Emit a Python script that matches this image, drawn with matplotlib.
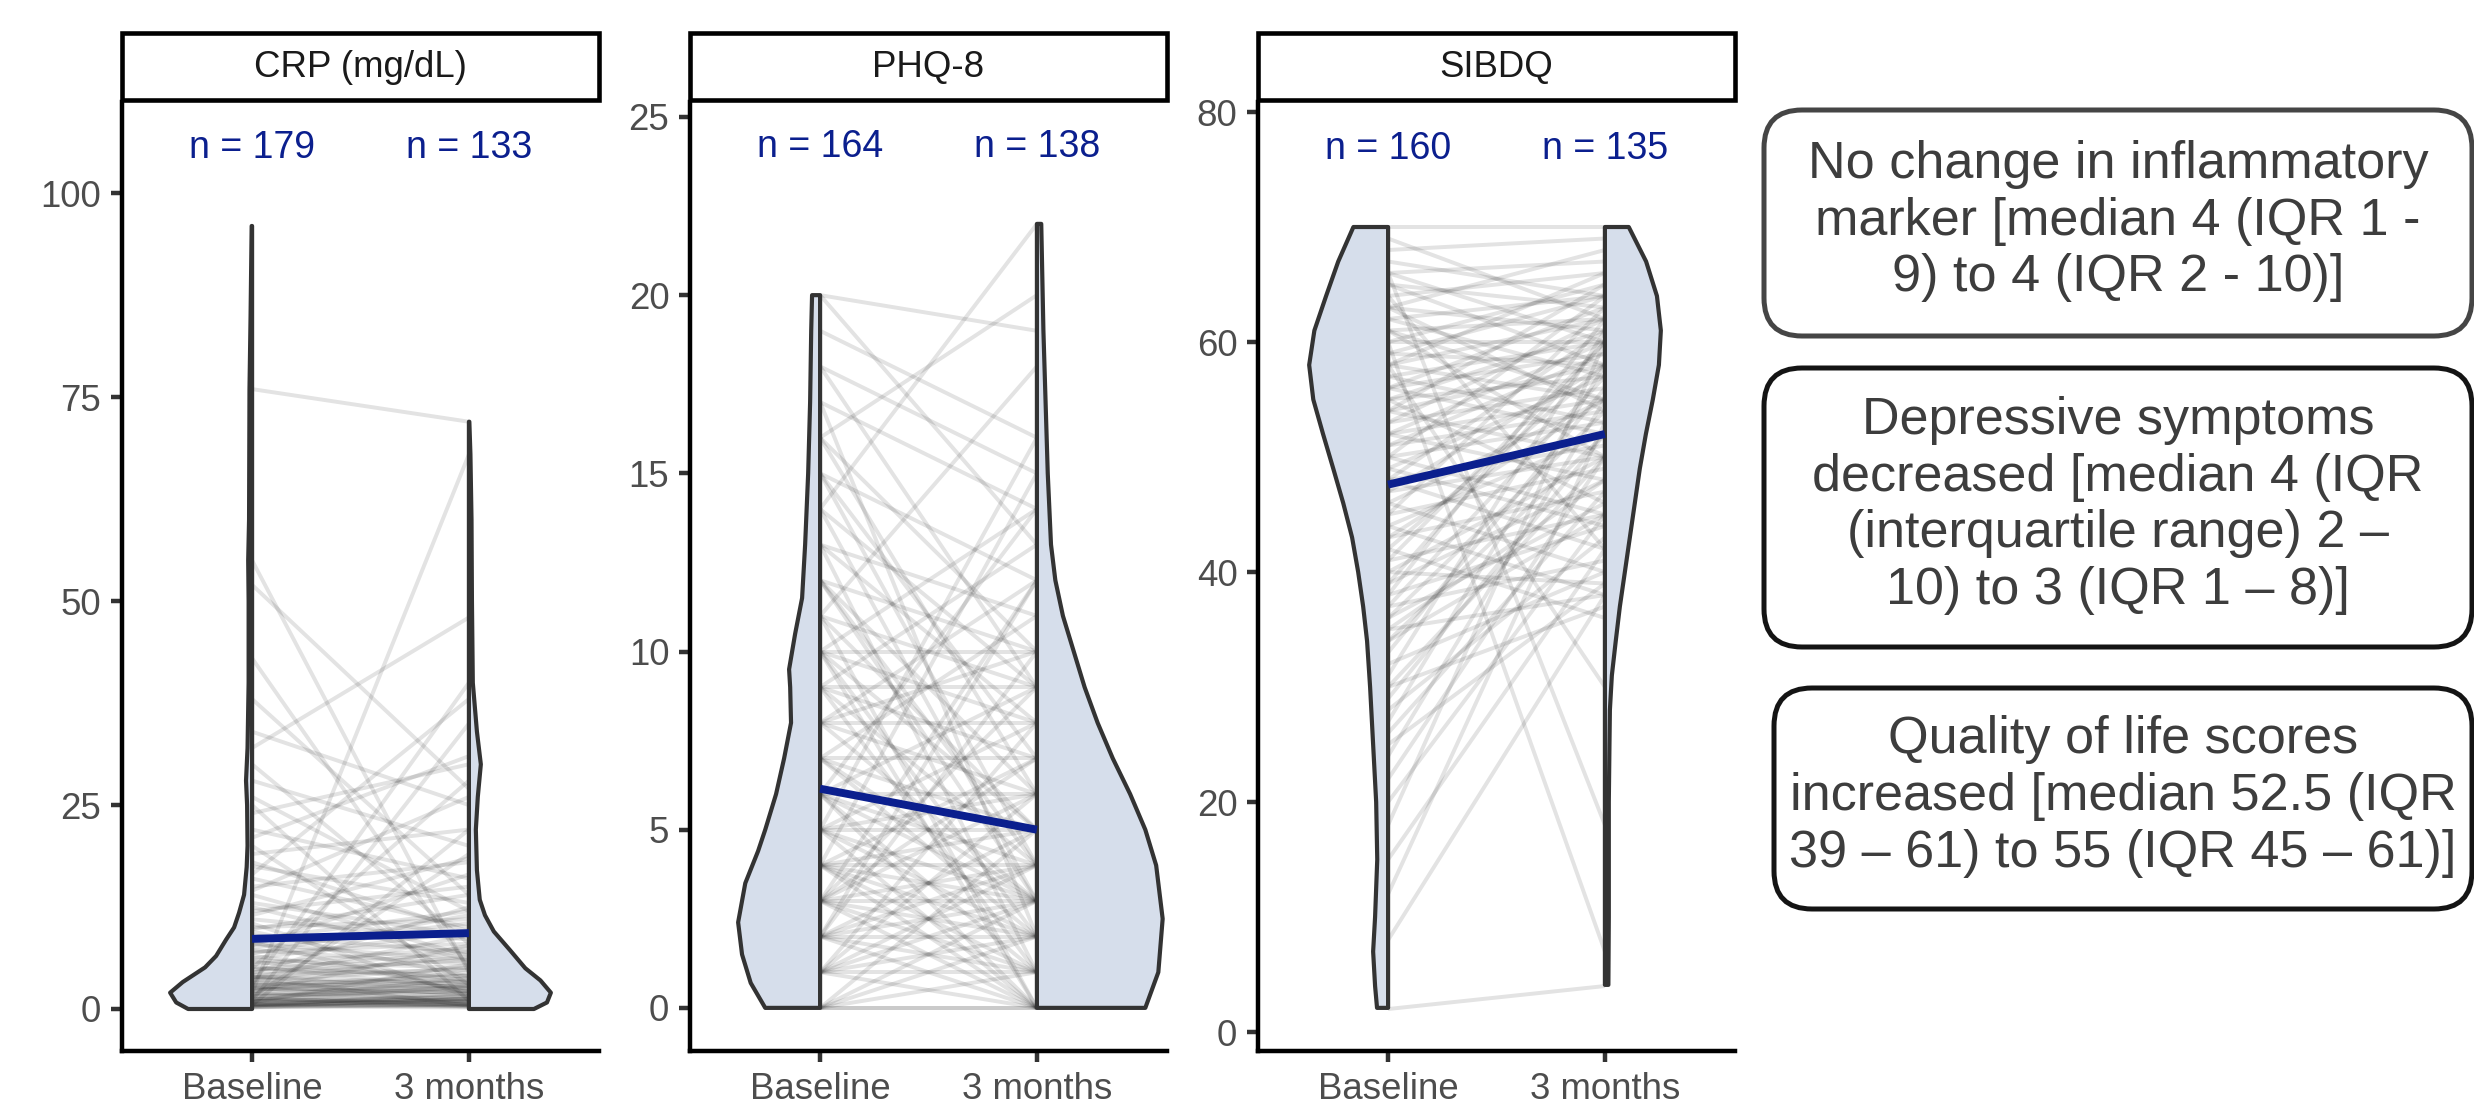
import numpy as np
import matplotlib
matplotlib.use('Agg')
import matplotlib.pyplot as plt
from matplotlib.patches import Rectangle, FancyBboxPatch

plt.rcParams['font.family'] = ['Liberation Sans', 'DejaVu Sans']

W, H = 2474, 1101
DPI = 300

# ---------------- data ----------------
timepoints = ['Baseline', '3 months']
panel_titles = ['CRP (mg/dL)', 'PHQ-8', 'SIBDQ']
n_counts = [[179, 133], [164, 138], [160, 135]]

# paired observations (baseline, 3 months)
crp_baseline = [0.3, 0.5, 0.5, 0.8, 1.0, 1.0, 0.4, 0.6, 1.2, 0.2,
                1.5, 2.0, 1.8, 2.5, 2.2, 3.0, 2.8, 3.5, 3.2, 4.0,
                4.5, 4.0, 5.0, 5.5, 6.0, 3.8, 6.5, 7.0, 7.5, 8.0,
                8.5, 9.0, 9.5, 10.0, 11.0, 12.0, 13.0, 14.0, 15.0, 16.0,
                17.5, 19.0, 20.0, 22.0, 24.0, 26.0, 28.0, 30.0, 34.0, 38.0,
                43.0, 52.0, 55.0, 76.0, 1.0, 2.0, 0.5, 3.0, 5.0, 1.5,
                0.7, 1.3, 0.9, 2.6, 3.3, 1.1, 0.3, 0.6, 2.4, 4.2,
                5.2, 6.2, 7.2, 4.8, 3.6, 2.9, 1.6, 0.4, 5.8, 6.8,
                9.8, 12.5, 11.5, 8.2, 14.5, 18.0, 21.0, 10.5, 7.8, 4.4,
                0.8, 1.9, 2.1, 3.9, 25.0, 32.0, 16.5, 0.2, 1.4, 2.7]
crp_3months = [0.5, 0.3, 1.0, 0.6, 1.5, 0.8, 2.0, 0.4, 1.0, 0.6,
               2.5, 1.2, 3.0, 2.0, 4.5, 2.8, 1.5, 5.0, 3.5, 3.0,
               6.0, 2.2, 4.0, 7.5, 5.0, 9.0, 3.5, 8.0, 10.5, 6.0,
               12.0, 7.0, 4.0, 11.0, 8.5, 15.0, 9.0, 6.5, 18.0, 10.0,
               13.0, 22.0, 3.0, 16.0, 30.0, 12.0, 20.0, 8.0, 25.0, 14.0,
               5.0, 27.0, 4.5, 72.0, 35.0, 68.0, 22.0, 40.0, 28.0, 19.0,
               1.2, 0.5, 2.8, 0.9, 1.8, 3.8, 0.2, 1.6, 2.6, 4.8,
               2.5, 9.5, 5.5, 7.0, 6.5, 4.1, 2.2, 1.1, 3.2, 11.5,
               14.0, 6.0, 18.5, 2.0, 26.0, 9.5, 31.0, 1.5, 16.5, 12.5,
               5.5, 0.7, 7.8, 0.4, 1.0, 48.0, 38.0, 1.3, 0.3, 3.3]

phq_baseline = [0, 0, 0, 1, 1, 1, 2, 2, 2, 3,
                3, 3, 4, 4, 4, 5, 5, 6, 6, 7,
                8, 9, 10, 10, 11, 12, 13, 14, 15, 16,
                17, 18, 19, 20, 20, 0, 1, 2, 3, 0,
                2, 3, 4, 5, 6, 4, 5, 6, 7, 8,
                8, 9, 10, 10, 11, 12, 12, 13, 14, 15,
                5, 4, 3, 2, 1, 0, 1, 3, 4, 6,
                7, 8, 9, 5, 2, 10, 11, 12, 13, 15,
                16, 17, 18, 7, 6, 5, 3, 2, 1, 4,
                9, 8, 7, 6, 11, 14, 9, 10, 16, 3]
phq_3months = [0, 0, 1, 0, 1, 2, 1, 2, 3, 2,
               3, 1, 3, 4, 2, 3, 5, 4, 3, 5,
               6, 7, 8, 5, 9, 10, 8, 22, 12, 10,
               14, 15, 16, 19, 13, 3, 4, 5, 6, 2,
               0, 0, 0, 0, 0, 1, 2, 6, 3, 3,
               10, 4, 10, 2, 5, 6, 4, 11, 9, 7,
               8, 7, 9, 10, 6, 5, 8, 12, 15, 14,
               11, 12, 13, 16, 12, 14, 18, 3, 1, 4,
               6, 2, 9, 7, 9, 6, 4, 4, 3, 5,
               9, 8, 2, 1, 0, 3, 1, 0, 20, 7]

sibdq_baseline = [70, 68, 66, 65, 64, 63, 62, 61, 60, 60,
                  59, 58, 58, 57, 56, 56, 55, 55, 54, 54,
                  53, 52, 52, 51, 50, 50, 49, 48, 48, 47,
                  46, 46, 45, 44, 44, 43, 42, 42, 41, 40,
                  40, 39, 38, 38, 37, 36, 35, 35, 34, 33,
                  32, 31, 30, 29, 28, 27, 26, 25, 24, 22,
                  20, 18, 15, 12, 8, 2, 66, 60, 58, 64,
                  62, 67, 69, 63, 61, 59, 57, 55, 53, 51,
                  49, 47, 45, 43, 41, 39, 37, 36, 34, 30,
                  66, 65, 63, 61, 58, 56, 54, 52, 50, 48]
sibdq_3months = [70, 69, 67, 63, 66, 61, 64, 62, 60, 65,
                 58, 62, 55, 60, 59, 52, 57, 61, 50, 58,
                 56, 55, 48, 54, 53, 45, 57, 51, 42, 50,
                 55, 40, 49, 52, 38, 47, 58, 36, 45, 50,
                 39, 60, 44, 62, 41, 54, 38, 48, 45, 56,
                 40, 61, 37, 52, 43, 58, 47, 39, 55, 50,
                 45, 60, 42, 53, 38, 4, 18, 7, 30, 42,
                 57, 64, 62, 68, 55, 64, 53, 46, 62, 59,
                 44, 58, 63, 55, 60, 48, 57, 46, 52, 50,
                 60, 58, 54, 50, 66, 63, 65, 60, 64, 61]

# summary (blue) line values
crp_summary = [8.6, 9.3]
phq_summary = [6.15, 5.0]
sibdq_summary = [47.6, 52.0]

# violin outlines: value levels and half-widths (x units)
crp_vio_base_y = [0, 0.8, 2.0, 3.3, 5.1, 6.5, 8.5, 10, 11.8, 14, 17.4, 20, 25, 28, 32, 40, 50, 55, 60, 76, 85, 96]
crp_vio_base_w = [0.295, 0.35, 0.378, 0.32, 0.217, 0.166, 0.12, 0.083, 0.06, 0.037, 0.025, 0.021, 0.023, 0.028,
                  0.021, 0.016, 0.016, 0.018, 0.014, 0.012, 0.007, 0.002]
crp_vio_3m_y = [0, 0.8, 2.0, 3.5, 5.0, 7.2, 9.5, 11.5, 13.4, 17, 22, 26, 30, 34, 40, 50, 60, 68, 72]
crp_vio_3m_w = [0.30, 0.36, 0.378, 0.33, 0.26, 0.19, 0.115, 0.074, 0.05, 0.037, 0.032, 0.041, 0.055, 0.037,
                0.018, 0.014, 0.012, 0.007, 0.002]

phq_vio_base_y = [0, 0.7, 1.5, 2.4, 3.5, 4.4, 5.0, 6.0, 7.0, 8.0, 9.0, 9.5, 10.5, 11.5, 13, 15, 17, 19, 20]
phq_vio_base_w = [0.253, 0.32, 0.36, 0.378, 0.345, 0.286, 0.253, 0.203, 0.166, 0.134, 0.138, 0.143, 0.115,
                  0.083, 0.069, 0.055, 0.046, 0.041, 0.037]
phq_vio_3m_y = [0, 1, 2.5, 4, 5, 6, 7, 8, 9, 10, 11, 12, 13, 15, 17, 19, 22]
phq_vio_3m_w = [0.50, 0.56, 0.58, 0.55, 0.50, 0.43, 0.35, 0.28, 0.22, 0.17, 0.12, 0.085, 0.065, 0.05, 0.04,
                0.03, 0.02]

sibdq_vio_base_y = [2.1, 4, 7, 10, 15, 20, 25, 30, 34, 37, 40, 43, 46, 49, 52, 55, 58, 61, 64, 67, 70]
sibdq_vio_base_w = [0.051, 0.06, 0.069, 0.06, 0.05, 0.055, 0.069, 0.083, 0.097, 0.115, 0.138, 0.166, 0.207,
                    0.253, 0.30, 0.345, 0.364, 0.34, 0.286, 0.23, 0.16]
sibdq_vio_3m_y = [4.1, 10, 20, 25, 28, 31, 34, 37, 40, 43, 46, 49, 52, 55, 58, 61, 64, 67, 70]
sibdq_vio_3m_w = [0.016, 0.018, 0.018, 0.021, 0.023, 0.032, 0.05, 0.069, 0.092, 0.115, 0.138, 0.161, 0.189,
                  0.221, 0.249, 0.258, 0.24, 0.19, 0.11]

box_texts = ["No change in inflammatory\nmarker [median 4 (IQR 1 -\n9) to 4 (IQR 2 - 10)]",
             "Depressive symptoms\ndecreased [median 4 (IQR\n(interquartile range) 2 \u2013\n10) to 3 (IQR 1 \u2013 8)]",
             "Quality of life scores\nincreased [median 52.5 (IQR\n39 \u2013 61) to 55 (IQR 45 \u2013 61)]"]

panels = [
    dict(base=crp_baseline, m3=crp_3months, summ=crp_summary,
         vb=(crp_vio_base_y, crp_vio_base_w), v3=(crp_vio_3m_y, crp_vio_3m_w),
         ticks=[0, 25, 50, 75, 100], ylim=(-5.15, 111.2), ny=105.6, x0=122),
    dict(base=phq_baseline, m3=phq_3months, summ=phq_summary,
         vb=(phq_vio_base_y, phq_vio_base_w), v3=(phq_vio_3m_y, phq_vio_3m_w),
         ticks=[0, 5, 10, 15, 20, 25], ylim=(-1.21, 25.42), ny=24.17, x0=690),
    dict(base=sibdq_baseline, m3=sibdq_3months, summ=sibdq_summary,
         vb=(sibdq_vio_base_y, sibdq_vio_base_w), v3=(sibdq_vio_3m_y, sibdq_vio_3m_w),
         ticks=[0, 20, 40, 60, 80], ylim=(-1.65, 80.87), ny=76.8, x0=1258),
]

# ---------------- styling ----------------
VIO_FILL = '#d6deeb'
VIO_EDGE = '#333333'
BLUE = '#0b1f8e'
TXT_GREY = '#4d4d4d'
LW_AX = 1.07

fig = plt.figure(figsize=(W / DPI, H / DPI), dpi=DPI)
fig.patch.set_facecolor('white')

PANEL_W = 477
AX_TOP, AX_BOT = 102, 1051
STRIP_TOP, STRIP_BOT = 33, 100


def half_violin(ax, x0, ys, ws, side):
    ys = np.asarray(ys, float)
    ws = np.asarray(ws, float)
    sgn = -1.0 if side == 'left' else 1.0
    px = np.concatenate([[x0], x0 + sgn * ws, [x0]])
    py = np.concatenate([[ys[0]], ys, [ys[-1]]])
    ax.fill(px, py, facecolor=VIO_FILL, edgecolor=VIO_EDGE, lw=1.0,
            joinstyle='round', zorder=3)


for i, p in enumerate(panels):
    x0 = p['x0']
    ax = fig.add_axes([x0 / W, 1 - AX_BOT / H, PANEL_W / W, (AX_BOT - AX_TOP) / H])
    ax.set_xlim(0.4, 2.6)
    ax.set_ylim(*p['ylim'])
    for s in ['top', 'right']:
        ax.spines[s].set_visible(False)
    for s in ['left', 'bottom']:
        ax.spines[s].set_linewidth(LW_AX)
        ax.spines[s].set_color('black')
    ax.set_xticks([1, 2])
    ax.set_xticklabels(timepoints)
    ax.set_yticks(p['ticks'])
    ax.tick_params(labelsize=8.8, labelcolor=TXT_GREY, color='#333333',
                   length=2.75, width=LW_AX, pad=2.2)

    # paired lines
    for b, m in zip(p['base'], p['m3']):
        ax.plot([1, 2], [b, m], color='black', alpha=0.11, lw=0.95,
                solid_capstyle='butt', zorder=2)

    half_violin(ax, 1, p['vb'][0], p['vb'][1], 'left')
    half_violin(ax, 2, p['v3'][0], p['v3'][1], 'right')

    ax.plot([1, 2], p['summ'], color=BLUE, lw=1.9, solid_capstyle='butt', zorder=5)

    for k, n in enumerate(n_counts[i]):
        ax.text(k + 1, p['ny'], f'n = {n}', ha='center', va='center',
                fontsize=9, color=BLUE, zorder=6)

# overlay in pixel coordinates
ov = fig.add_axes([0, 0, 1, 1])
ov.set_xlim(0, W)
ov.set_ylim(H, 0)
ov.axis('off')
ov.patch.set_alpha(0)

for i, p in enumerate(panels):
    x0 = p['x0']
    ov.add_patch(Rectangle((x0, STRIP_TOP), PANEL_W, STRIP_BOT - STRIP_TOP,
                           facecolor='white', edgecolor='black', lw=1.1))
    ov.text(x0 + PANEL_W / 2, (STRIP_TOP + STRIP_BOT) / 2 + 1, panel_titles[i],
            ha='center', va='center', fontsize=8.8, color='#1a1a1a')

boxes = [(1764, 110, 2472, 336, '#454545'),
         (1764, 368, 2472, 647, '#141414'),
         (1774, 688, 2472, 909, '#141414')]
for (bx0, by0, bx1, by1, ec), txt in zip(boxes, box_texts):
    ov.add_patch(FancyBboxPatch((bx0, by0), bx1 - bx0, by1 - by0,
                                boxstyle='round,pad=0,rounding_size=38',
                                facecolor='white', edgecolor=ec, lw=1.2))
    ov.text((bx0 + bx1) / 2, (by0 + by1) / 2 - 2, txt, ha='center', va='center',
            multialignment='center', fontsize=12.5, color='#3d3d3d', linespacing=1.21)

fig.savefig('out.png', dpi=DPI, facecolor='white')
